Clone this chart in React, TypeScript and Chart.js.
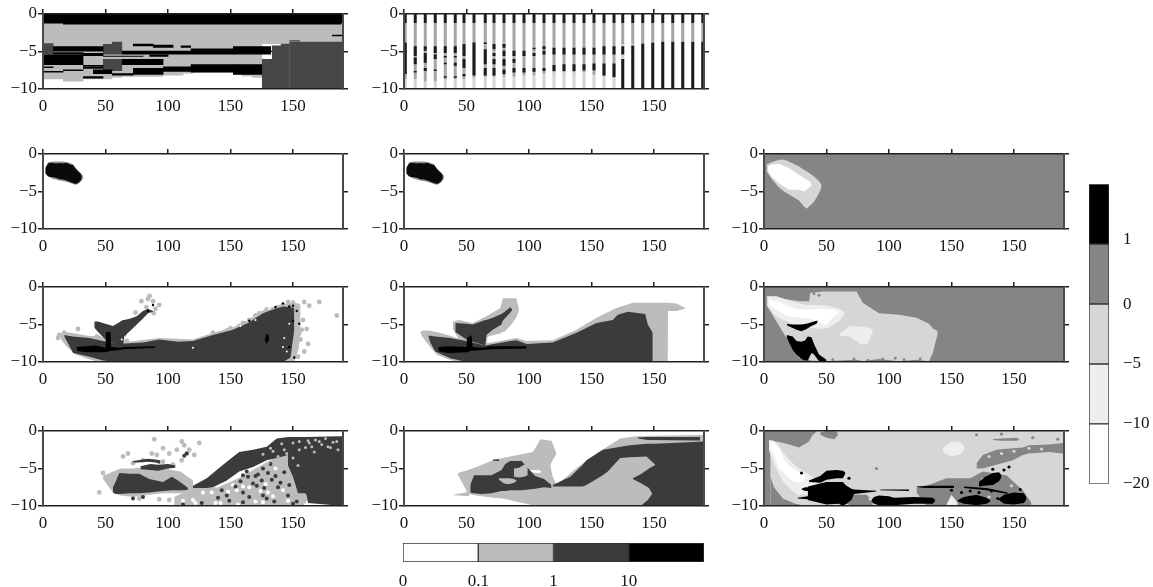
import React, { useEffect, useRef } from "react";
import { Chart, registerables } from "chart.js";

Chart.register(...registerables);

type Tri = [number, number, number];
type Rect = [number, number, number, number];
type Pt = [number, number];

const xTickValues = [0, 50, 100, 150, 200];
const xTickLabels = ["0", "50", "100", "150", "150"];
const yTickValues = [0, -5, -10];
const yTickLabels = ["0", "\u22125", "\u221210"];

const BLACK = "#000000";
const DARK = "#3b3b3b";
const DARK2 = "#474747";
const LIGHT = "#bcbcbc";
const MID = "#858585";
const PALE = "#d6d6d6";
const PALER = "#eeeeee";
const WHITE = "#ffffff";

/* top row, left */
const a1Gray: Rect[] = [
  [0, 16, -1, -8.7], [16, 32, -1, -9], [32, 55, -1, -8.7], [55, 63, -1, -8.5], [63, 96, -1, -8.35],
  [96, 112, -1, -8.2], [112, 120, -1, -7.95], [120, 152, -1, -7.8], [152, 159, -1, -8.1],
  [159, 167, -1, -8.3], [167, 175, -1, -8.5], [175, 240, -1, -4],
];
const a1Dark: Rect[] = [
  [0, 8, -3.9, -5.4], [48, 55, -4, -5.4], [55, 63, -3.7, -5.4], [48, 63, -6, -7.6],
  [175, 183, -6, -10], [183, 190, -4.2, -10], [190, 197, -3.95, -10], [197, 240, -3.7, -10],
  [197, 205, -3.5, -3.65],
];
const a1Black: Rect[] = [
  [0, 8, 0, -1.25], [8, 16, 0, -1.25], [16, 238, 0, -1.4], [238, 240, 0, -1.25],
  [8, 48, -4.3, -5], [8, 32, -5.1, -5.4], [0, 32, -5.4, -6.8], [32, 48, -5.2, -5.6],
  [32, 48, -6.8, -7], [48, 80, -5.55, -5.7], [72, 88, -3.95, -4.3], [88, 104, -4.1, -4.5],
  [110, 118, -4.2, -4.5], [63, 118, -4.9, -5.4], [118, 152, -4.6, -5.4], [152, 182, -4.3, -5.4],
  [85, 100, -5.4, -5.7], [63, 96, -6, -6.8], [0, 8, -7, -7.2], [0, 16, -7.6, -7.8],
  [16, 32, -7.4, -7.6], [40, 55, -7.4, -8], [32, 48, -7, -7.3], [55, 72, -7.9, -8.2],
  [72, 96, -7.2, -8.1], [96, 118, -7, -7.7], [118, 152, -6.7, -7.8], [152, 175, -6.7, -8.1],
  [32, 48, -8.3, -8.6], [175, 183, -4.9, -5.05], [231, 240, -2.75, -2.95],
];

/* top row, middle: stripes */
const stripeX = [1, 9, 17, 25, 33, 41, 48, 56, 65, 72, 80, 88, 96, 104, 112, 120, 128, 136, 144, 152, 160, 168, 175, 183, 191, 199, 207, 215, 223, 231, 239];
const stripeTopEnd = -1.2;
const stripeGrayEnd = [-8.7, -8.7, -9, -9, -8.7, -8.7, -8.7, -8.5, -8.35, -8.35, -8.35, -8.35, -8.2, -8.2, -7.95, -7.8, -7.8, -7.8, -7.8, -8.1, -8.3, -8.5, -4, -4, -4, -3.7, -3.7, -3.7, -3.7, -3.7, -3.7];
const stripeDashes: number[][] = [
  [-3.8, -8], [-4.3, -5.6, -5.8, -6.7, -7.6, -7.8], [-4.3, -4.9, -5.2, -6.5, -7.2, -7.6], [-4.3, -5.2, -5.4, -6, -7.4, -7.6],
  [-4.3, -5.2, -5.6, -5.8, -6.5, -6.7, -8.3, -8.5], [-4.3, -5.2, -5.6, -5.8, -6.5, -6.9, -8.3, -8.5], [-4, -5.6, -6, -7.2, -8, -8.3], [-3.8, -8.2],
  [-3.8, -4, -4.7, -6.7, -7.2, -8.2], [-4, -4.7, -5.2, -5.6, -6, -6.7, -7.2, -8.2], [-4, -4.5, -4.9, -5.6, -6, -6.9, -7.4, -8], [-4.9, -5.6, -6, -6.5, -7.2, -7.8],
  [-4.9, -5.6, -7.2, -7.8], [-4.5, -4.7, -5.2, -5.6, -7.2, -7.7], [-4.3, -4.7, -4.9, -5.4, -7.2, -7.6], [-4.5, -5.4, -6.8, -7.6],
  [-4.5, -5.4, -6.7, -7.6], [-4.5, -5.4, -6.7, -7.6], [-4.5, -5.4, -6.7, -7.5], [-4.5, -5.4, -6.6, -7.5], [-4.3, -5.4, -6.6, -8.2], [-4.3, -5.4, -6.6, -8.4],
  [-4.3, -5.4, -6, -10], [-4.2, -10], [-3.95, -10], [-3.8, -10], [-3.7, -10], [-3.7, -10], [-3.7, -10], [-3.7, -10], [-3.7, -10],
];

/* second row */
const blobHalo: Tri[] = [[1.5, -2, -2.5], [4, -1.1, -3], [8, -1, -3.3], [12, -1, -3.5], [16, -1, -3.6], [20, -1.1, -3.75], [24, -1.35, -4], [26, -1.9, -4.1], [28, -2.2, -4], [30, -2.5, -3.7], [32, -2.9, -3.3]];
const blobCore: Tri[] = [[2, -1.8, -2.6], [4, -1.3, -2.95], [6, -1.15, -3.05], [8, -1.2, -3.1], [11, -1.25, -3.2], [13, -1.2, -3.35], [16, -1.25, -3.4], [18, -1.15, -3.5], [20, -1.25, -3.6], [22, -1.4, -3.75], [24, -1.45, -3.85], [26, -1.9, -4], [28, -2.3, -3.85], [30, -2.6, -3.6], [31, -2.9, -3.2]];
const blobOuter: Tri[] = [[2, -1.4, -2.3], [6, -1.1, -3.3], [12, -0.75, -4.45], [16, -0.75, -5], [20, -1, -5.4], [28, -1.65, -6.2], [32, -2.1, -7], [34, -2.3, -7.3], [36, -2.5, -7], [40, -3, -6.4], [44, -3.6, -5.2], [46, -4.1, -4.5]];
const blobWhite: Tri[] = [[3, -1.65, -2.2], [6, -1.4, -3], [12, -1.3, -3.9], [20, -1.85, -4.75], [28, -2.75, -4.75], [32, -3.2, -5], [36, -3.6, -4.5], [38, -4, -4.2]];

/* third row, left */
const c1Gray: Tri[] = [[14, -6.2, -6.9], [18, -6, -7.8], [26, -6.2, -9], [36, -6.5, -9.6], [45, -6.6, -10], [62, -7.2, -10], [68, -7.3, -10], [93, -6.8, -10], [120, -7, -10], [136, -6.1, -10], [152, -5.4, -10], [164, -4.4, -10], [176, -3.1, -10], [190, -2.3, -10], [201, -2.1, -10], [204, -2.2, -8.5], [206, -2.4, -6.5]];
const c1Body: Tri[] = [[17, -6.4, -6.6], [20, -6.5, -7.5], [24, -6.6, -8.8], [37, -6.8, -9.3], [48, -7.2, -9.8], [59, -7.6, -10], [80, -7.4, -10], [93, -7, -10], [108, -7.3, -10], [120, -7.2, -10], [136, -6.4, -10], [152, -5.7, -10], [164, -4.8, -10], [176, -3.5, -10], [184, -3, -10], [192, -2.6, -10], [198, -2.7, -9.4], [201, -2.8, -5.7]];
const c1Arm: Tri[] = [[41, -4.6, -5.4], [44, -4.6, -6], [50, -4.9, -7], [56, -5.2, -7.5], [64, -4.4, -7.9], [65, -4.4, -6.6], [70, -4.2, -5.8], [75, -3.9, -5], [80, -3.2, -4.2], [84, -2.9, -3.5], [88, -3.2, -3.3]];
const c1Black: Tri[] = [[27, -8, -8.5], [34, -7.9, -8.7], [42, -7.8, -8.7], [50, -8.1, -8.7], [50.5, -6, -8.7], [54, -6, -8.5], [54.5, -8, -8.5], [62, -8.1, -8.4], [64, -8, -8.3], [90, -7.9, -8.1]];
const c1Spot: Tri[] = [[177.5, -6.9, -7.1], [179, -6.2, -7.6], [181, -6.6, -7]];
const c1GrayDots: Pt[] = [[78.7, -1.9], [85.3, -1.2], [88, -1.9], [93, -2.4], [82.7, -2.7], [88.5, -3.5], [74, -3.4], [13, -6.4], [12, -6.8], [17, -6.1], [28, -5.6], [43, -6.6], [45, -6.8], [67, -7.2], [65, -6.4], [157, -5.2], [165, -4.4], [173, -3.5], [179, -3], [192, -2.4], [200, -2.1], [209, -2], [213, -2.5], [221, -2], [235, -3.8], [204, -3.5], [208, -4.4], [207, -5.7], [211, -5.6], [200, -6.8], [195, -7.9], [203, -8.1], [209, -8.6], [204, -9.3], [200, -9.5], [196, -7.2], [201, -5.7], [136, -6.1], [147, -5.8], [206, -7], [198, -8.8], [204, -2.6], [196, -2], [187, -2.7], [170, -3.8], [160, -4.8], [150, -5.5], [84, -1.6], [90, -2.9], [80, -3.6], [205, -6.2], [212, -7.6], [203, -7.2]];
const c1DarkDots: Pt[] = [[88, -2.4], [84, -3.2], [201, -9.4], [197, -8], [200, -4.5], [186, -2.7], [197, -2.6], [165, -4.5], [203, -3.2], [205, -4.9], [192, -2.2], [200, -2.5]];
const c1WhiteDots: Pt[] = [[192, -8], [195, -8.6], [193, -6.8], [66, -6.7], [63, -7], [181, -2.9], [170, -4.4], [158, -5.2], [120, -8.1], [197, -4.9]];

/* third row, middle */
const c2Gray: Tri[] = [[43, -5.6, -5.8], [47, -5.4, -7], [50, -5.3, -8], [51, -5.2, -8.4], [58, -4.8, -8.6], [66, -7.5, -8.8], [80, -7.1, -10], [90, -6.8, -10], [98, -7.2, -10], [119, -7.1, -10], [138, -5.7, -10], [154, -4.1, -10], [170, -2.8, -10], [183, -2.1, -10], [200, -2.1, -10], [208, -2.1, -10], [211, -2.1, -10], [211.2, -2.1, -3.2], [218, -2.2, -3.2], [225, -2.8, -2.9]].slice(6) as Tri[];
const c2GrayLeft: Tri[] = [[13, -6, -6.1], [15, -5.8, -6.7], [19, -5.8, -7.6], [26, -6, -9], [35, -6.4, -9.6], [42, -6.8, -10], [66, -7.5, -10], [80.2, -7.1, -10]];
const c2GrayArm: Tri[] = [[39, -4.6, -5.6], [44, -4.4, -7], [55, -4.8, -7.6], [66, -3.9, -7.7], [67, -3.8, -6.6], [77, -2.8, -6.2], [79, -1.5, -6], [81, -1.5, -5.9], [86, -1.5, -5], [90, -1.5, -4], [92, -3, -3.1]];
const c2Body: Tri[] = [[19.5, -6.5, -6.6], [21, -6.5, -7.4], [25, -6.6, -8.6], [37, -6.8, -9.5], [50, -7.2, -10], [65, -7.8, -10], [85, -7.2, -10], [90, -7.1, -10], [98, -7.6, -10], [119, -7.4, -10], [138, -6.1, -10], [154, -4.8, -10], [167, -4.4, -10], [171, -3.7, -10], [179, -3.3, -10], [193, -3.6, -10], [195, -5, -10], [199, -6.1, -10]];
const c2Arm: Tri[] = [[41, -4.8, -6], [50, -4.9, -7], [55, -5, -7.3], [65, -4.4, -7.8], [66, -4.4, -6.4], [71, -4.1, -5.7], [78, -3.6, -5], [79, -3.5, -4.5], [85, -2.7, -3.4], [86.5, -3, -3.1]];
const c2Black: Tri[] = [[27.5, -8, -8.6], [35, -7.9, -8.8], [50, -8, -8.7], [50.5, -6.8, -8.7], [54, -6.4, -8.5], [55, -8, -8.5], [62, -8.1, -8.4], [70, -7.9, -8.3], [98, -7.9, -8.2]];

/* third row, right */
const c3Pale: Tri[] = [[2, -1.2, -2.4], [10, -1.2, -4.6], [16.5, -1.6, -6.4], [28.5, -1.9, -9.5], [36, -1.9, -9.7], [37, -0.8, -9.8], [47, -0.6, -9.9], [74, -0.6, -9.7], [79, -2.1, -9.9], [92, -3.5, -9.6], [108, -3.7, -9.9], [122, -4.1, -9.7], [132, -4.9, -9.9], [135, -5.5, -8.8], [139, -5.9, -6.2]];
const c3Paler: Tri[] = [[3, -1.3, -2.6], [8, -1.3, -3.7], [14, -1.5, -4.3], [24, -2, -5], [34, -2.4, -5.4], [44, -2.4, -5.6], [52, -2.5, -5.4], [60, -2.9, -4.6], [64, -3.3, -3.7]];
const c3White: Tri[] = [[4, -1.6, -2.4], [12, -2, -3.3], [20, -2.6, -3.9], [28, -3, -4.1], [38, -3, -4.3], [44, -2.9, -4.7], [50, -3, -5.1], [56, -3, -3.9], [60, -3.3, -3.5]];
const c3Patch: Tri[] = [[60.5, -6.3, -6.5], [68.5, -5.2, -6.6], [78, -5.3, -7.7], [83, -5.4, -7.5], [87, -5.6, -5.9]];
const c3BlackUp: Tri[] = [[18.4, -4.9, -5.1], [22, -5, -5.4], [26, -5, -5.7], [30, -5, -5.9], [34, -4.9, -5.6], [38, -4.7, -5.2], [42, -4.5, -4.9], [43, -4.5, -4.6]];
const c3BlackLow: Tri[] = [[18, -6.4, -6.7], [23, -6.6, -8.4], [26, -7.2, -9], [30, -7.3, -9.6], [33, -7.1, -9.8], [35, -6.6, -9.8], [38, -6.7, -8.8], [40, -7.6, -9], [44, -9, -9.9], [50, -9.7, -10]];
const c3GrayDots: Pt[] = [[55, -9.7], [72, -9.6], [95, -9.6], [105, -9.5], [112, -9.7], [125, -9.6], [83, -9.8], [10, -0.8], [40, -0.9], [44, -1.1]];

/* fourth row, left */
const d1GrayLeft: Tri[] = [[48, -6, -6.4], [56, -5.4, -8.2], [62, -5, -8.6], [72, -5, -8.8], [85, -4.7, -8.5], [96, -5, -8.3], [110, -5.4, -8.3], [120, -6.6, -8]];
const d1GrayLow: Tri[] = [[105, -8.8, -10], [120, -7.6, -10], [140, -7.5, -10], [155, -6.4, -10], [170, -5, -10], [185, -3.6, -10], [196, -2.6, -10], [203, -3, -10], [208, -7, -10], [212, -8, -9.2]];
const d1Left: Tri[] = [[56, -7.5, -8.2], [58, -6.8, -8.4], [61, -5.6, -8.4], [70, -5.7, -8.3], [77, -5.7, -8.3], [85, -6.4, -8.2], [96, -6.8, -8], [103, -6.1, -7.9], [108, -6.6, -7.9], [113, -7.2, -7.9], [116, -7.6, -7.8]];
const d1Upper: Tri[] = [[72, -4, -4.2], [76, -3.9, -4.2], [84, -3.7, -4.1], [90, -3.8, -4.2], [94, -3.9, -4.4]];
const d1Mid: Tri[] = [[78, -4.7, -5.1], [86, -4.4, -5.2], [92, -4.5, -5.3], [100, -4.4, -5], [106, -4.6, -4.9]];
const d1Right: Tri[] = [[120, -7.3, -7.6], [131, -6.3, -7.6], [136, -5.6, -7.5], [147, -4.1, -6.6], [157, -2.8, -5.4], [168, -2.5, -4.8], [179, -2.1, -3.9], [187, -1, -3.6], [196, -0.8, -3.2], [210, -0.8, -3.2], [237, -0.7, -3], [240, -0.7, -3]];
const d1Block: Tri[] = [[196, -3.2, -4.6], [200, -3.2, -6.1], [204, -3, -8.3], [210, -2.8, -8.3], [211, -2.6, -8.6], [212, -2.6, -9.6], [240, -2.2, -10]];
const d1GrayDots: Pt[] = [[45, -8.2], [48, -5.6], [53, -6.1], [72, -4.3], [80, -3.9], [87, -3], [89, -1.1], [96, -2.3], [101, -3], [111, -1.4], [113, -1.9], [117, -2.5], [121, -3.2], [125, -1.6], [111, -3.9], [115, -3], [104, -4.5], [96, -4.1], [91, -3.2], [107, -2.5], [99, -5.2], [77, -9], [93, -9.1], [101, -9.2], [64, -3.4], [68, -3], [207, -7.6], [213, -8.3], [210, -7.1]];
const d1DarkDots: Pt[] = [[115, -3], [113, -3.3], [72, -9], [80, -8.8], [112, -9.8], [127, -9.6], [149, -9.3], [160, -8.2], [165, -8.8], [171, -7.3], [176, -8.6], [183, -6.5], [190, -6.9], [158, -6.7], [172, -5.8], [180, -5.6], [164, -6.1], [147, -8.6], [140, -8.9], [185, -9.4], [200, -9.7], [143, -7.9], [205, -6.1], [177, -7.6], [160, -9.5], [201, -5.5], [197, -7.2], [170, -6], [176, -5], [168, -7], [154, -7.4], [186, -6], [193, -5.5], [188, -7.5], [179, -9], [196, -8.6], [203, -9.4], [163, -5.4], [160, -5.9], [175, -6.6], [182, -4.4]];
const d1WhiteDots: Pt[] = [[152, -7.2], [155, -7.9], [148, -8.1], [160, -7.4], [165, -7.5], [174, -8], [180, -8.2], [184, -8.7], [192, -7.9], [170, -9.4], [176, -9.5], [196, -9.3], [138, -9.6], [122, -9.6], [128, -8.2], [135, -8.2], [142, -9.6], [156, -9.8], [120, -9.2], [112, -9.3], [186, -5], [178, -7.1]];
const d1Flecks: Pt[] = [[168, -6.3], [200, -8.7], [187, -8.1], [155, -9.1], [192, -3.8], [182, -2.3], [212, -1.3], [223, -1.8], [230, -2.2], [218, -1.2], [232, -1.5], [215, -2.1], [193, -2.5], [205, -1.4], [213, -1.6], [221, -1.4], [228, -2.1], [235, -1.4], [236, -2.5], [217, -2.8], [205, -2.5], [190, -3.9], [195, -3], [184, -2.7], [200, -1.6], [210, -2.2], [226, -1], [191, -1.7], [180, -4.3], [176, -3.1], [200, -3.6], [204, -4.6], [188, -3.4]];

/* fourth row, middle */
const d2GrayTail: Tri[] = [[40, -8.45, -8.55], [52, -8.1, -8.7]];
const d2Gray: Tri[] = [[43, -5.6, -5.8], [47, -5.4, -7], [50, -5.3, -8], [51, -5.2, -8.4], [58, -4.8, -8.6], [71, -3.9, -8.9], [79, -3.6, -9], [103, -2.8, -9.9], [105, -2.3, -10], [109, -1.1, -10], [118, -1.3, -10], [122, -3, -10], [122.1, -7.2, -10], [139, -4.8, -10], [154, -3, -10], [173, -1, -10], [186, -0.7, -10], [239.5, -0.5, -10]];
const d2LobeCut: Tri[] = [[117, -4.5, -4.6], [119, -3.9, -6.1], [122, -3, -7.2], [122.5, -3, -7.2]];
const d2Notch: Tri[] = [[95, -5.3, -5.4], [100, -5.2, -5.5], [108, -5.2, -5.6], [110, -5.4, -5.5]];
const d2DarkRight: Tri[] = [[119, -7.2, -7.4], [133, -6.1, -7.4], [143, -4.5, -7.4], [146, -3.9, -7.2], [159, -2.5, -5.9], [163, -2.4, -5.4], [173, -2.1, -3.6], [181, -1.9, -3.5], [194, -1.7, -3.4], [201, -1.7, -4.5], [201.2, -1.7, -10], [239.5, -1.4, -10]];
const d2DarkWedge: Tri[] = [[183, -6.3, -6.4], [190, -5.7, -7], [196, -5, -7.6], [199, -4.7, -8.5], [202, -4.5, -9]];
const d2DarkFoot: Tri[] = [[190, -9.9, -10], [195, -9.2, -10], [199, -8.3, -10], [202, -8, -10]];
const d2DarkStrip: Tri[] = [[187, -0.85, -1], [195, -0.8, -1.2], [237, -0.8, -1.25]];
const d2DarkLeft: Tri[] = [[53, -7.2, -8.2], [56, -5.9, -8.3], [62, -5.9, -8.4], [70, -5.9, -8.3], [78, -5.2, -8], [81, -4.4, -8], [85, -4, -7.9], [90, -4, -7.9], [94, -4, -7.9], [105, -6, -7.7], [112, -6.4, -7.5], [118, -7.2, -7.6]];
const d2GapNotch: Tri[] = [[88, -5, -6.1], [92, -4.9, -6.2], [96, -4.5, -6.1], [99, -4.5, -5.9]];
const d2Hole: Tri[] = [[76, -6.3, -6.5], [80, -6.3, -7], [84, -6.3, -7.1], [88, -6.4, -6.9], [90, -6.6, -6.7]];
const d2Streak: Tri[] = [[71, -3.8, -3.95], [76, -3.75, -4]];

/* fourth row, right */
const d3PaleBase: Tri[] = [[0, 0, -10], [240, 0, -10]];
const d3GrayTop: Tri[] = [[0, 0, -10], [5, 0, -10], [5.1, 0, -1.4], [10, 0, -1.4], [18, 0, -1.7], [28, 0, -2.2], [36, 0, -1.4], [39, 0, -0.5], [42, 0, -0.1]];
const d3GrayTab: Tri[] = [[45, -0.2, -0.5], [50, 0, -0.9], [56, 0, -1.1], [59, -0.2, -0.6]];
const d3GrayWedge: Tri[] = [[5, -6, -10], [8, -7.5, -10], [15, -9, -10], [25, -9.7, -10], [34, -10, -10]];
const d3GrayRight: Tri[] = [[170, -4.3, -5], [175, -3.2, -5], [186, -2.5, -4.5], [199, -2.3, -3.9], [207, -2.2, -3.2], [212, -1.9, -3], [228, -1.8, -2.8], [239.5, -1.6, -3]];
const d3GrayTop2: Tri[] = [[183, -1.1, -1.2], [190, -1, -1.3], [202, -0.9, -1.3], [204, -1.1, -1.2]];
const d3GrayLow: Tri[] = [[122, -7.6, -8.2], [130, -7.3, -10], [146, -6.3, -10], [165, -6.3, -10], [175, -5.4, -10], [194, -5.9, -10], [207, -7.9, -10], [214, -9.6, -10]];
const d3GrayFloor: Tri[] = [[65, -9.4, -9.6], [70, -8.5, -10], [82, -8.5, -10], [87, -9.3, -10]];
const d3Halo: Tri[] = [[4, -1.2, -2.6], [8, -1.3, -4.3], [12, -2, -5.8], [16, -3, -6.9], [20, -3.8, -7.6], [25, -4.6, -8.3], [28, -5, -8.6], [32, -5.4, -8.4], [38, -6, -8.8], [48, -8.3, -9], [58, -8.6, -8.8]];
const d3White: Tri[] = [[5, -1.4, -2.2], [8, -1.5, -3.2], [12, -2.3, -4.9], [16, -3.8, -5.6], [20, -4.6, -6.3], [25, -5.2, -6.8], [30, -5.6, -6.8], [33, -6, -6.4]];
const d3Spot: Tri[] = [[143, -2.3, -2.8], [150, -1.4, -3.4], [157, -1.5, -3.1], [160, -2, -2.6]];
const d3SpotLow: Tri[] = [[146, -9.8, -10], [150, -8.5, -10], [155, -9.6, -10]];
const d3BlackA: Tri[] = [[36, -6.6, -6.8], [45, -6, -6.9], [50, -5.3, -6.5], [58, -5.2, -6.3], [63, -5.3, -6.3], [65, -5.5, -5.7]];
const d3BlackMain: Tri[] = [[27, -8.9, -9], [35, -8.7, -9.1], [35.1, -7.4, -9.2], [45, -7, -9.6], [50, -6.8, -9.8], [60, -6.8, -9.7], [63, -6.8, -10], [66, -7.3, -9.7], [70, -7.7, -9.2], [72, -7.8, -8.4], [90, -7.95, -8.05]];
const d3BlackArm: Tri[] = [[30, -7.7, -7.8], [33, -7.5, -8], [36, -7.5, -8]];
const d3BlackFloor: Tri[] = [[86, -9.2, -9.4], [88, -8.8, -9.7], [92, -8.6, -9.9], [100, -8.7, -9.9], [104, -8.9, -9.9], [120, -8.8, -9.7], [135, -8.9, -9.7], [137, -9.2, -9.3]];
const d3Streak1: Tri[] = [[93, -7.8, -7.9], [116, -7.8, -8]];
const d3Streak2: Tri[] = [[122, -7.4, -7.5], [130, -7.3, -7.6], [152, -7.3, -7.6]];
const d3BlobR: Tri[] = [[172, -6.8, -7.4], [176, -6.2, -7.3], [183, -5.6, -7.2], [188, -5.5, -6.7], [190, -5.9, -6.2]];
const d3FloorR1: Tri[] = [[155, -9.2, -9.4], [160, -8.8, -9.7], [170, -8.5, -9.9], [178, -8.9, -9.7], [181, -9.2, -9.4]];
const d3FloorR2: Tri[] = [[188, -9, -9.2], [192, -8.5, -9.7], [200, -8.2, -9.8], [208, -8.3, -9.6], [210, -8.9, -9.1]];
const d3Line1: Tri[] = [[160, -7.4, -7.6], [178, -7.6, -7.9], [195, -8.2, -8.4]];
const d3BlackDots: Pt[] = [[30, -5.6], [165, -8], [172, -8.2], [182, -8], [187, -9], [205, -7.8], [150, -7.9], [158, -8.2], [192, -5.2], [183, -5.1], [196, -4.8], [68, -6.3]];
const d3PaleDots: Pt[] = [[180, -3.4], [190, -3], [200, -2.7], [212, -2.3], [222, -2.4], [195, -1.9], [215, -6], [198, -7.3], [180, -8.8], [168, -9], [175, -6.4], [192, -8.8], [85, -9.1], [112, -8.2]];
const d3GrayDots: Pt[] = [[148, -7.6], [155, -8.1], [130, -8.3], [65, -9], [78, -9], [90, -5], [215, -0.9], [235, -1.1], [170, -0.5], [190, -0.4]];

/* colour bars */
const sideBarColors = [WHITE, PALER, PALE, MID, BLACK];
const sideBarTicks = [0, 1, 2, 3, 4.08];
const sideBarLabels = ["\u221220", "\u221210", "\u22125", "0", "1"];
const bottomBarColors = [WHITE, LIGHT, DARK, BLACK];
const bottomBarTicks = [0, 1, 2, 3];
const bottomBarLabels = ["0", "0.1", "1", "10"];

const FONT = { family: "'Liberation Serif', serif", size: 17 };
const TEXT = "#151515";
const L = 44, T = 12, W = 300, H = 75, R = 20, B = 26;

type Layer =
  | { kind: "band"; color: string; data: Tri[] }
  | { kind: "dots"; color: string; r: number; data: Pt[] }
  | { kind: "segs"; color: string; width: number; data: { x: number; y: number | null }[] };

const band = (color: string, data: Tri[]): Layer => ({ kind: "band", color, data });
const dots = (color: string, r: number, data: Pt[]): Layer => ({ kind: "dots", color, r, data });
const rects = (color: string, data: Rect[]): Layer[] =>
  data.map(([a, b, t, u]) => band(color, [[a, t, u], [b + 0.5, t, u]]));

function pairsToSegs(xs: number[], pairs: number[][]) {
  const out: { x: number; y: number | null }[] = [];
  xs.forEach((x, i) => {
    for (let k = 0; k + 1 < pairs[i].length; k += 2) {
      out.push({ x, y: pairs[i][k] }, { x, y: pairs[i][k + 1] }, { x, y: null });
    }
  });
  return out;
}

const stripeLayers: Layer[] = [
  { kind: "segs", color: "#d4d4d4", width: 3, data: pairsToSegs(stripeX, stripeX.map((_, i) => [stripeGrayEnd[i], -10])) },
  { kind: "segs", color: "#a6a6a6", width: 3, data: pairsToSegs(stripeX, stripeX.map((_, i) => [stripeTopEnd, stripeGrayEnd[i]])) },
  { kind: "segs", color: "#1c1c1c", width: 3, data: pairsToSegs(stripeX, stripeX.map((_, i) => [0, stripeTopEnd, ...stripeDashes[i]])) },
];

const blobLayers: Layer[] = [band("#8f8f8f", blobHalo), band("#0a0a0a", blobCore)];

type Panel = { left: number; top: number; layers: Layer[] };
const X1 = 43, X2 = 404, X3 = 764;
const Y1 = 14, Y2 = 154, Y3 = 287, Y4 = 431;

const bg = (c: string) => band(c, [[0, 0, -10], [240, 0, -10]]);

const panels: Panel[] = [
  { left: X1, top: Y1, layers: [...rects(LIGHT, a1Gray), ...rects(DARK2, a1Dark), ...rects(BLACK, a1Black)] },
  { left: X2, top: Y1, layers: stripeLayers },
  { left: X1, top: Y2, layers: blobLayers },
  { left: X2, top: Y2, layers: blobLayers },
  { left: X3, top: Y2, layers: [bg(MID), band(PALE, blobOuter), band(WHITE, blobWhite)] },
  {
    left: X1, top: Y3, layers: [
      dots(LIGHT, 2.4, c1GrayDots), band(LIGHT, c1Gray), band(DARK, c1Body), band(DARK, c1Arm),
      dots(WHITE, 1, c1WhiteDots), band(BLACK, c1Black), band(BLACK, c1Spot), dots(BLACK, 1.2, c1DarkDots),
    ],
  },
  {
    left: X2, top: Y3, layers: [
      band(LIGHT, c2GrayLeft), band(LIGHT, c2Gray), band(LIGHT, c2GrayArm), band(DARK, c2Body), band(DARK, c2Arm), band(BLACK, c2Black),
    ],
  },
  {
    left: X3, top: Y3, layers: [
      bg(MID), band(PALE, c3Pale), band(PALER, c3Paler), band(WHITE, c3White), band(PALER, c3Patch),
      dots(MID, 1.4, c3GrayDots), band(BLACK, c3BlackUp), band(BLACK, c3BlackLow),
    ],
  },
  {
    left: X1, top: Y4, layers: [
      band(LIGHT, d1GrayLeft), band(LIGHT, d1GrayLow), dots(LIGHT, 2.4, d1GrayDots),
      dots(WHITE, 2, d1WhiteDots), band(DARK, d1Left), band(DARK, d1Upper), band(DARK, d1Mid),
      band(DARK, d1Right), band(DARK, d1Block), dots(DARK, 2, d1DarkDots), dots(LIGHT, 1.5, d1Flecks),
    ],
  },
  {
    left: X2, top: Y4, layers: [
      band(LIGHT, d2GrayTail), band(LIGHT, d2Gray), band(WHITE, d2LobeCut), band(WHITE, d2Notch), band(DARK, d2DarkRight), band(DARK, d2DarkWedge), band(DARK, d2DarkFoot),
      band(DARK, d2DarkLeft), band(LIGHT, d2GapNotch), band(LIGHT, d2Hole), band(DARK, d2DarkStrip), band(DARK, d2Streak),
    ],
  },
  {
    left: X3, top: Y4, layers: [
      band(PALE, d3PaleBase), band(MID, d3GrayTop), band(MID, d3GrayTab), band(MID, d3GrayWedge), band(MID, d3GrayRight),
      band(MID, d3GrayTop2), band(MID, d3GrayLow), band(MID, d3GrayFloor), dots(MID, 1.6, d3GrayDots), band(PALER, d3Halo), band(WHITE, d3White),
      band(PALER, d3Spot), band(PALER, d3SpotLow), dots(PALE, 1.6, d3PaleDots), band(BLACK, d3BlackA), band(BLACK, d3BlackMain), band(BLACK, d3BlackArm),
      band(BLACK, d3BlackFloor), band(BLACK, d3Streak1), band(BLACK, d3Streak2), band(BLACK, d3BlobR), band(BLACK, d3FloorR1),
      band(BLACK, d3FloorR2), band(BLACK, d3Line1), dots(BLACK, 1.6, d3BlackDots),
    ],
  },
];

function buildDatasets(layers: Layer[]) {
  const out: any[] = [];
  // earlier datasets are painted on top, so the list is walked from its last layer
  for (let i = layers.length - 1; i >= 0; i--) {
    const l = layers[i];
    if (l.kind === "band") {
      out.push({
        data: l.data.map(([x, t]) => ({ x, y: t })), fill: "+1", backgroundColor: l.color,
        borderWidth: 0, pointRadius: 0, showLine: true,
      });
      out.push({
        data: l.data.map(([x, , b]) => ({ x, y: b })), fill: false,
        borderWidth: 0, pointRadius: 0, showLine: true,
      });
    } else if (l.kind === "dots") {
      out.push({
        data: l.data.map(([x, y]) => ({ x, y })), showLine: false, fill: false,
        pointRadius: l.r, pointBackgroundColor: l.color, pointBorderWidth: 0,
      });
    } else {
      out.push({
        data: l.data, showLine: true, fill: false, spanGaps: false, borderColor: l.color,
        borderWidth: l.width, borderCapStyle: "butt", pointRadius: 0,
      });
    }
  }
  return out;
}

const HLINE = { color: "#202020", width: 1.6 };
const VLINE = { color: "#4a4a4a", width: 2 };

function panelOptions() {
  const setTicks = (vals: number[]) => (s: any) => { s.ticks = vals.map((value) => ({ value })); };
  const xBase = { type: "linear", min: 0, max: 240, afterBuildTicks: setTicks(xTickValues) };
  const yBase = { type: "linear", min: -10, max: 0, afterBuildTicks: setTicks(yTickValues) };
  const marks = (color: string) => ({ drawOnChartArea: false, drawTicks: true, tickLength: 5, color, lineWidth: 1.5, z: 1 });
  return {
    responsive: false,
    animation: false,
    devicePixelRatio: 1,
    layout: { padding: 0 },
    plugins: { legend: { display: false }, tooltip: { enabled: false } },
    events: [],
    scales: {
      x: {
        ...xBase, position: "bottom",
        afterFit: (s: any) => { s.height = B; },
        grid: { drawOnChartArea: false, drawTicks: false, z: 1 },
        border: { ...HLINE, z: 1 },
        ticks: { autoSkip: false, maxRotation: 0, font: FONT, color: TEXT, padding: 7, callback: (_: any, i: number) => xTickLabels[i] },
      },
      x2: {
        ...xBase, position: "top",
        afterFit: (s: any) => { s.height = T; },
        grid: marks(HLINE.color),
        border: { ...HLINE, z: 1 },
        ticks: { display: false },
      },
      y: {
        ...yBase, position: "left",
        afterFit: (s: any) => { s.width = L; },
        grid: marks(HLINE.color),
        border: { ...VLINE, z: 1 },
        ticks: { autoSkip: false, font: FONT, color: TEXT, padding: 1, callback: (_: any, i: number) => yTickLabels[i] },
      },
      y2: {
        ...yBase, position: "right",
        afterFit: (s: any) => { s.width = R; },
        grid: marks(HLINE.color),
        border: { ...VLINE, z: 1 },
        ticks: { display: false },
      },
    },
  };
}

function PanelChart({ panel }: { panel: Panel }) {
  const ref = useRef<HTMLCanvasElement>(null);
  useEffect(() => {
    const chart = new Chart(ref.current!, {
      type: "line",
      data: { datasets: buildDatasets(panel.layers) },
      options: panelOptions() as any,
    });
    return () => chart.destroy();
  }, [panel]);
  return (
    <canvas
      ref={ref}
      width={L + W + R}
      height={T + H + B}
      style={{ position: "absolute", left: panel.left - L, top: panel.top - T, width: L + W + R, height: T + H + B }}
    />
  );
}

function SideBar() {
  const ref = useRef<HTMLCanvasElement>(null);
  useEffect(() => {
    const chart = new Chart(ref.current!, {
      type: "bar",
      data: {
        labels: [""],
        datasets: sideBarColors.map((c) => ({
          data: [1], backgroundColor: c, borderColor: "#333333", borderWidth: 1, borderSkipped: false, barPercentage: 1, categoryPercentage: 1,
        })),
      },
      options: {
        responsive: false, animation: false, devicePixelRatio: 1, events: [],
        layout: { padding: { left: 9, top: 16, bottom: 16, right: 0 } },
        plugins: { legend: { display: false }, tooltip: { enabled: false } },
        scales: {
          x: { stacked: true, display: false },
          y: {
            stacked: true, min: 0, max: 5, position: "right",
            afterBuildTicks: (s: any) => { s.ticks = sideBarTicks.map((value) => ({ value })); },
            afterFit: (s: any) => { s.width = 44; },
            grid: { display: false }, border: { display: false },
            ticks: { font: FONT, color: TEXT, padding: 6, autoSkip: false, callback: (_: any, i: number) => sideBarLabels[i] },
          },
        },
      } as any,
    });
    return () => chart.destroy();
  }, []);
  return <canvas ref={ref} width={73} height={332} style={{ position: "absolute", left: 1080, top: 168, width: 73, height: 332 }} />;
}

function BottomBar() {
  const ref = useRef<HTMLCanvasElement>(null);
  useEffect(() => {
    const chart = new Chart(ref.current!, {
      type: "bar",
      data: {
        labels: [""],
        datasets: bottomBarColors.map((c) => ({
          data: [1], backgroundColor: c, borderColor: "#333333", borderWidth: 1, borderSkipped: false, barPercentage: 1, categoryPercentage: 1,
        })),
      },
      options: {
        indexAxis: "y",
        responsive: false, animation: false, devicePixelRatio: 1, events: [],
        layout: { padding: { left: 14, top: 6, right: 15, bottom: 0 } },
        plugins: { legend: { display: false }, tooltip: { enabled: false } },
        scales: {
          y: { stacked: true, display: false },
          x: {
            stacked: true, min: 0, max: 4, position: "bottom",
            afterBuildTicks: (s: any) => { s.ticks = bottomBarTicks.map((value) => ({ value })); },
            afterFit: (s: any) => { s.height = 25; },
            grid: { display: false }, border: { display: false },
            ticks: { font: FONT, color: TEXT, padding: 1, autoSkip: false, maxRotation: 0, callback: (_: any, i: number) => bottomBarLabels[i] },
          },
        },
      } as any,
    });
    return () => chart.destroy();
  }, []);
  return <canvas ref={ref} width={330} height={50} style={{ position: "absolute", left: 389, top: 537, width: 330, height: 50 }} />;
}

export default function App() {
  return (
    <div style={{ position: "absolute", left: 0, top: 0, width: 1153, height: 587, overflow: "hidden", background: "#fff", filter: "blur(0.45px)" }}>
      {panels.map((p, i) => <PanelChart key={i} panel={p} />)}
      <SideBar />
      <BottomBar />
    </div>
  );
}
